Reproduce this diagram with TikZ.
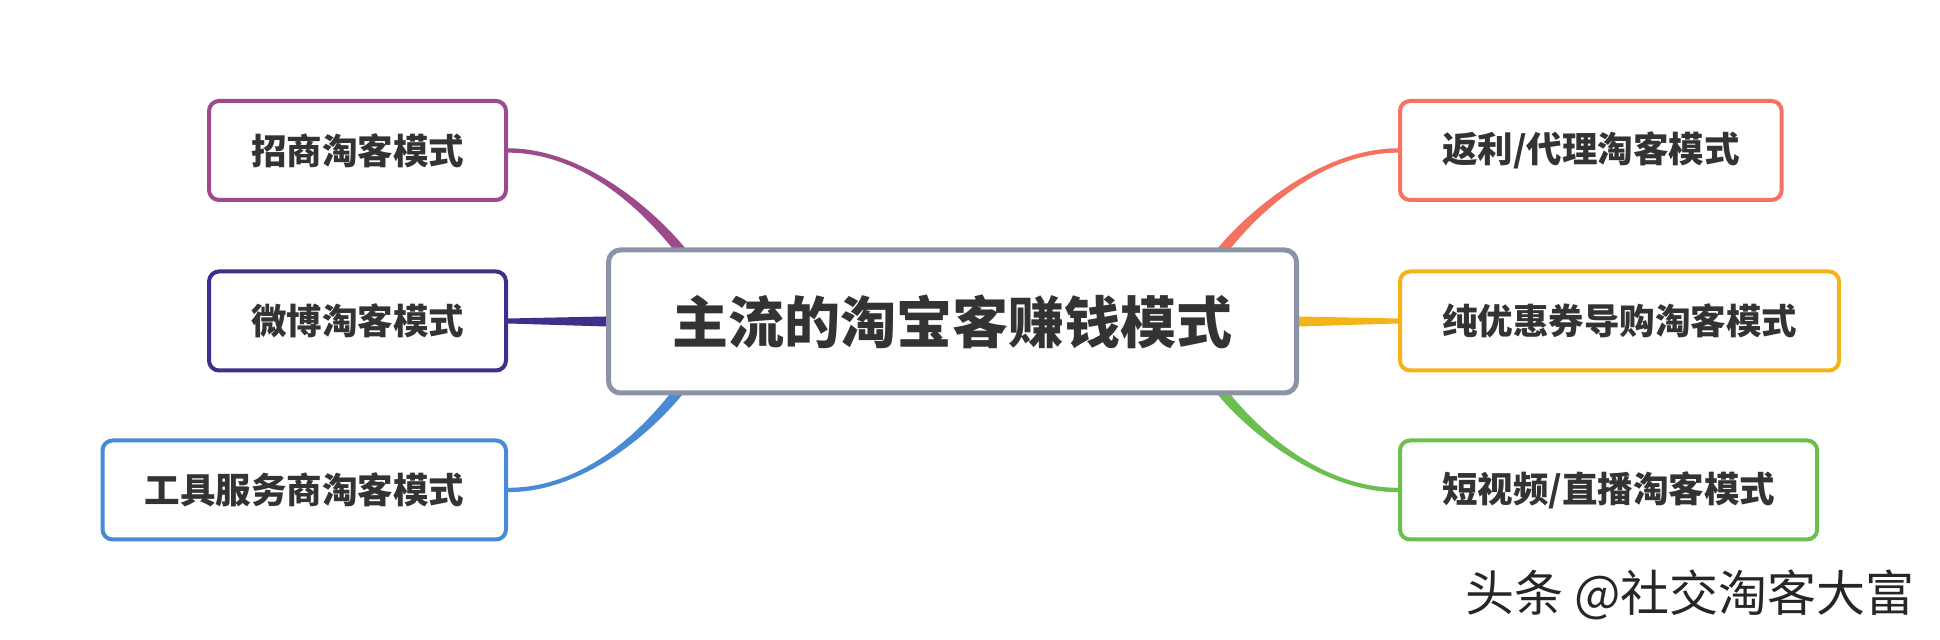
\documentclass[tikz,border=0pt]{standalone}
\usepackage{fontspec}
\newfontfamily\cjk{Noto Sans CJK SC}
\usepackage{tikz}
\usetikzlibrary{positioning, calc, backgrounds}
\definecolor{rootcolor}{RGB}{138, 148, 166}
\definecolor{zscolor}{RGB}{155, 74, 140}
\definecolor{wbcolor}{RGB}{62, 47, 140}
\definecolor{gjcolor}{RGB}{74, 138, 212}
\definecolor{flcolor}{RGB}{244, 114, 96}
\definecolor{yhcolor}{RGB}{245, 179, 26}
\definecolor{spcolor}{RGB}{108, 190, 80}
\definecolor{textcolor}{RGB}{51, 51, 51}
% tapered branch: colour, start, start half-width, start ctrl, end, end ctrl, end half-width
\newcommand{\taper}[7]{\fill[#1] ($(#2)+(#3)$) .. controls +(#4) and +(#6) .. ($(#5)+(#7)$) -- ($(#5)-(#7)$) .. controls +(#6) and +(#4) .. ($(#2)-(#3)$) -- cycle;}

\begin{document}
\begin{tikzpicture}[
    x=0.5pt, y=0.5pt,
    root/.style={draw=rootcolor, fill=white, line width=2.5pt, rounded corners=6pt, inner xsep=32pt, minimum height=71.5pt, font=\cjk\bfseries\fontsize{28}{32}\selectfont, text=textcolor},
    topic/.style={draw=#1, fill=white, line width=2pt, rounded corners=5pt, inner xsep=21pt, minimum height=49.5pt, font=\cjk\bfseries\fontsize{17.75}{20}\selectfont, text=textcolor},
    wmark/.style={font=\cjk\fontsize{24.5}{28}\selectfont, text=black!85}
]
    \useasboundingbox (0,0) rectangle (1940,640);

    % Root
    \node[root] (main) at (952.5,318.5) {主流的淘宝客赚钱模式};

    % Left topics
    \node[topic=zscolor, anchor=east] (zs) at (508,489.5) {招商淘客模式};
    \node[topic=wbcolor, anchor=east] (wb) at (508,319) {微博淘客模式};
    \node[topic=gjcolor, anchor=east] (gj) at (508,150) {工具服务商淘客模式};

    % Right topics
    \node[topic=flcolor, anchor=west] (fl) at (1398,489.5) {返利/代理淘客模式};
    \node[topic=yhcolor, anchor=west] (yh) at (1398,319) {纯优惠券导购淘客模式};
    \node[topic=spcolor, anchor=west] (sp) at (1398,150) {短视频/直播淘客模式};

    % Watermark
    \node[wmark] (wm) at (1690,45) {头条 @社交淘客大富};

    % Branches
    \coordinate (zsroot) at ($(main.north west)+(77,-6)$);
    \coordinate (gjroot) at ($(main.south west)+(74,6)$);
    \coordinate (flroot) at ($(main.north east)+(-79,-6)$);
    \coordinate (sproot) at ($(main.south east)+(-79,6)$);
    \begin{scope}[on background layer]
        \taper{zscolor}{zsroot}{-6.5,0}{128:55}{zs.east}{75,0}{0,-2.2}
        \taper{gjcolor}{gjroot}{-6.5,0}{-128:55}{gj.east}{75,0}{0,2.2}
        \taper{flcolor}{flroot}{6.5,0}{52:55}{fl.west}{-75,0}{0,-2.2}
        \taper{spcolor}{sproot}{6.5,0}{-52:55}{sp.west}{-75,0}{0,2.2}
        \fill[wbcolor] ($(main.west)+(0,5)$) -- ($(wb.east)+(0,2.5)$) -- ($(wb.east)+(0,-2.5)$) -- ($(main.west)+(0,-5)$) -- cycle;
        \fill[yhcolor] ($(main.east)+(0,5)$) -- ($(yh.west)+(0,2.5)$) -- ($(yh.west)+(0,-2.5)$) -- ($(main.east)+(0,-5)$) -- cycle;
    \end{scope}
\end{tikzpicture}
\end{document}
